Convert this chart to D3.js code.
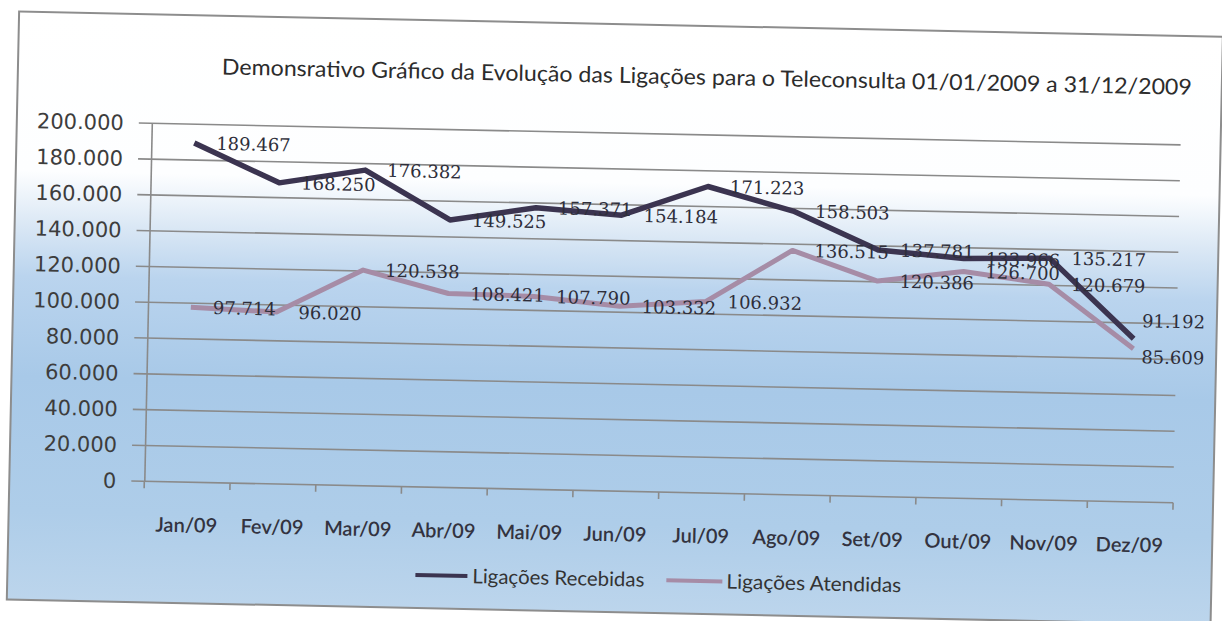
<!DOCTYPE html>
<html><head><meta charset="utf-8">
<script src="https://cdn.jsdelivr.net/npm/d3@7"></script>
<style>html,body{margin:0;padding:0;background:#fff;} svg{display:block}</style>
</head><body>
<svg id="chart" width="1222" height="621"></svg>
<script>
const months = ["Jan/09","Fev/09","Mar/09","Abr/09","Mai/09","Jun/09","Jul/09","Ago/09","Set/09","Out/09","Nov/09","Dez/09"];
const recebidas = [189467,168250,176382,149525,157371,154184,171223,158503,137781,133966,135217,91192];
const atendidas = [97714,96020,120538,108421,107790,103332,106932,136515,120386,126700,120679,85609];
const yTickValues = [0,20000,40000,60000,80000,100000,120000,140000,160000,180000,200000];
const seriesNames = ["Ligações Recebidas","Ligações Atendidas"];
const chartTitle = "Demonsrativo Gráfico da Evolução das Ligações para o Teleconsulta 01/01/2009 a 31/12/2009";

const colR = "#3b3450", colA = "#a68ca6", gridCol = "#8a8a8a", textCol = "#333340";
const svg = d3.select("#chart");
const defs = svg.append("defs");
const grad = defs.append("linearGradient").attr("id","bg").attr("x1",0).attr("y1",0).attr("x2",0).attr("y2",1);
[[0,"#ffffff"],[0.27,"#fdfeff"],[0.36,"#dbe8f5"],[0.45,"#bad4ee"],[0.62,"#a8c9e8"],[0.85,"#aecde9"],[1,"#bcd5ec"]]
  .forEach(([o,c])=>grad.append("stop").attr("offset",o).attr("stop-color",c));

const root = svg.append("g").attr("transform","rotate(1.2 611 310)");
root.append("rect").attr("x",13).attr("y",24).attr("width",1204).attr("height",588)
  .attr("fill","url(#bg)").attr("stroke","#8d8d8d").attr("stroke-width",2);

const m = {left:148, right:1177, top:133, bottom:491};
const x = d3.scaleBand().domain(months).range([m.left, m.right]);
const y = d3.scaleLinear().domain([0,200000]).range([m.bottom, m.top]);
const loc = d3.formatLocale({decimal:",", thousands:".", grouping:[3], currency:["R$",""]});
const fmt = loc.format(",.0f");
const cx = i => x(months[i]) + x.bandwidth()/2;

// title
root.append("text").attr("x",702).attr("y",75).attr("dy","0.35em").attr("text-anchor","middle")
  .attr("font-family","Lato, 'Open Sans', sans-serif").attr("font-size",22).attr("fill","#2c2c2c")
  .attr("textLength",970).attr("lengthAdjust","spacingAndGlyphs").text(chartTitle);

// gridlines
root.append("g").selectAll("line").data(yTickValues).join("line")
  .attr("x1",m.left-13).attr("x2",m.right).attr("y1",d=>y(d)).attr("y2",d=>y(d))
  .attr("stroke",gridCol).attr("stroke-width",1.6);

// y axis
const gy = root.append("g").attr("transform",`translate(${m.left},0)`)
  .call(d3.axisLeft(y).tickValues(yTickValues).tickFormat(fmt).tickSize(0).tickSizeOuter(0).tickPadding(28));
gy.select(".domain").attr("stroke",gridCol).attr("stroke-width",1.6);
gy.selectAll("text").attr("font-family","'DejaVu Sans', sans-serif").attr("font-size",21).attr("fill","#3d3d3d");

// x axis
const gx = root.append("g").attr("transform",`translate(0,${m.bottom})`)
  .call(d3.axisBottom(x).tickSize(0).tickSizeOuter(0));
gx.select(".domain").remove();
gx.selectAll("text").attr("y",43).attr("dy","0.35em")
  .attr("font-family","Lato, sans-serif").attr("font-size",20).attr("font-weight",600).attr("fill",textCol);
root.append("g").selectAll("line").data(d3.range(months.length+1)).join("line")
  .attr("x1",i=>m.left+i*x.step()).attr("x2",i=>m.left+i*x.step())
  .attr("y1",m.bottom).attr("y2",m.bottom+7).attr("stroke",gridCol).attr("stroke-width",1.6);

// lines
const line = d3.line().x((d,i)=>cx(i)).y(d=>y(d));
const series = [{v:atendidas,c:colA,w:5},{v:recebidas,c:colR,w:5.5}];
series.forEach(s=>{
  root.append("path").datum(s.v).attr("d",line).attr("fill","none")
    .attr("stroke",s.c).attr("stroke-width",s.w).attr("stroke-linejoin","round");
});

// data labels
const lastI = months.length-1;
[{v:recebidas,dyLast:-18},{v:atendidas,dyLast:8}].forEach(s=>{
  root.append("g").selectAll("text").data(s.v).join("text")
    .attr("x",(d,i)=>cx(i)+(i===lastI?8:22))
    .attr("y",(d,i)=>y(d)+(i===lastI?s.dyLast:0))
    .attr("dy","0.35em")
    .attr("font-family","'DejaVu Serif', serif").attr("font-size",18).attr("fill","#2e2e3a")
    .text(d=>fmt(d));
});

// legend
const leg = root.append("g").attr("transform","translate(0,579)");
[{x1:421,x2:473,tx:478,tl:172,c:colR,n:seriesNames[0]},{x1:672,x2:728,tx:732,tl:175,c:colA,n:seriesNames[1]}].forEach(l=>{
  leg.append("line").attr("x1",l.x1).attr("x2",l.x2).attr("y1",0).attr("y2",0).attr("stroke",l.c).attr("stroke-width",4);
  leg.append("text").attr("x",l.tx).attr("y",0).attr("dy","0.35em")
    .attr("font-family","Lato, sans-serif").attr("font-size",20).attr("fill","#333")
    .attr("textLength",l.tl).attr("lengthAdjust","spacingAndGlyphs").text(l.n);
});
</script>
</body></html>
